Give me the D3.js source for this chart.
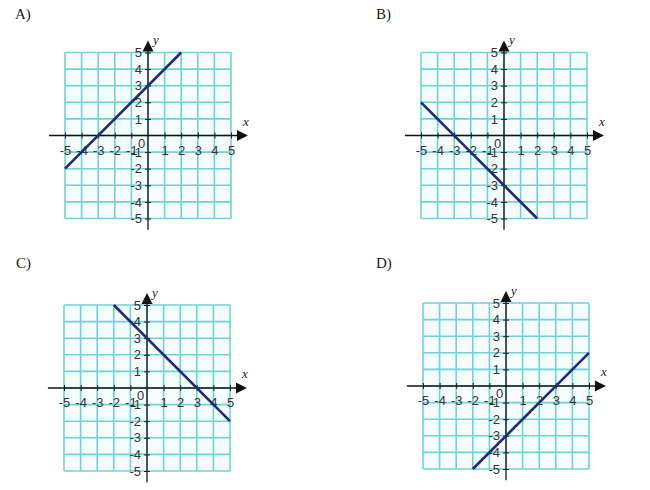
<!DOCTYPE html>
<html>
<head>
<meta charset="utf-8">
<script src="https://cdn.jsdelivr.net/npm/d3@7"></script>
<style>
  body { margin: 0; background: #fff; }
  svg { display: block; }
</style>
</head>
<body>
<div id="chart"></div>
<script>
// --- Data ---
const panelLabels = ["A)", "B)", "C)", "D)"];
const tickValues = [-5, -4, -3, -2, -1, 0, 1, 2, 3, 4, 5];
// line endpoints [x, y] for each panel
const lineStart = [[-5, -2], [-5, 2], [-2, 5], [-2, -5]];
const lineEnd = [[2, 5], [2, -5], [5, -2], [5, 2]];

// --- Layout (pixel origin of each graph, label anchor) ---
const layout = [
  { ox: 148, oy: 135.5, lx: 15, ly: 19 },
  { ox: 504, oy: 135.5, lx: 376, ly: 19 },
  { ox: 147, oy: 388, lx: 16, ly: 268 },
  { ox: 506, oy: 386, lx: 376, ly: 268 }
];
const half = 83; // pixels from origin to +/-5

const gridColor = "#72d2d2";
const lineColor = "#1f2a78";
const sans = "'Liberation Sans', Arial, sans-serif";
const serif = "'Liberation Serif', 'Times New Roman', serif";
const plainNum = d => String(d); // keep the ascii hyphen like the source

const svg = d3.select("#chart").append("svg")
  .attr("width", 650)
  .attr("height", 490);

panelLabels.forEach((label, i) => {
  const { ox, oy, lx, ly } = layout[i];
  const x = d3.scaleLinear().domain([-5, 5]).range([ox - half, ox + half]);
  const y = d3.scaleLinear().domain([-5, 5]).range([oy + half, oy - half]);

  svg.append("text")
    .attr("x", lx)
    .attr("y", ly)
    .attr("font-family", serif)
    .attr("font-size", 15)
    .attr("fill", "#222")
    .text(label);

  const g = svg.append("g");

  // grid background + lines
  g.append("rect")
    .attr("x", x(-5)).attr("y", y(5))
    .attr("width", x(5) - x(-5)).attr("height", y(-5) - y(5))
    .attr("fill", "#f4fcfc");

  g.selectAll(".vgrid")
    .data(tickValues)
    .join("line")
    .attr("x1", d => x(d)).attr("x2", d => x(d))
    .attr("y1", y(-5)).attr("y2", y(5))
    .attr("stroke", gridColor)
    .attr("stroke-width", 1.6);

  g.selectAll(".hgrid")
    .data(tickValues)
    .join("line")
    .attr("y1", d => y(d)).attr("y2", d => y(d))
    .attr("x1", x(-5)).attr("x2", x(5))
    .attr("stroke", gridColor)
    .attr("stroke-width", 1.6);

  // axis lines
  g.append("line")
    .attr("x1", x(-5.97)).attr("x2", x(5.5))
    .attr("y1", y(0)).attr("y2", y(0))
    .attr("stroke", "#111").attr("stroke-width", 1.3);
  g.append("line")
    .attr("x1", x(0)).attr("x2", x(0))
    .attr("y1", y(-5.68)).attr("y2", y(5.2))
    .attr("stroke", "#111").attr("stroke-width", 1.3);

  // arrow heads
  const xt = x(6.02), yt = y(5.72);
  g.append("path")
    .attr("d", `M${xt},${y(0)} L${xt - 11},${y(0) - 5.5} L${xt - 11},${y(0) + 5.5} Z`)
    .attr("fill", "#111");
  g.append("path")
    .attr("d", `M${x(0)},${yt} L${x(0) - 5.5},${yt + 11} L${x(0) + 5.5},${yt + 11} Z`)
    .attr("fill", "#111");

  // x axis ticks + labels
  const xAxis = g.append("g")
    .attr("transform", `translate(0,${y(0)})`)
    .call(d3.axisBottom(x)
      .tickValues(tickValues.filter(d => d !== 0))
      .tickSize(3)
      .tickPadding(7)
      .tickFormat(plainNum));
  xAxis.select(".domain").remove();
  xAxis.selectAll(".tick line").attr("y1", -3).attr("stroke", "#222");
  xAxis.selectAll("text")
    .attr("font-family", sans)
    .attr("font-size", 13)
    .attr("fill", "#333");

  // y axis ticks + labels
  const yAxis = g.append("g")
    .attr("transform", `translate(${x(0)},0)`)
    .call(d3.axisLeft(y)
      .tickValues(tickValues.filter(d => d !== 0))
      .tickSize(3)
      .tickPadding(3)
      .tickFormat(plainNum));
  yAxis.select(".domain").remove();
  yAxis.selectAll(".tick line").attr("x1", 3).attr("stroke", "#222");
  yAxis.selectAll("text")
    .attr("font-family", sans)
    .attr("font-size", 13)
    .attr("fill", "#333");

  // origin label
  g.append("text")
    .attr("x", x(0) - 6.5)
    .attr("y", y(0) + 12)
    .attr("text-anchor", "middle")
    .attr("font-family", sans)
    .attr("font-size", 13)
    .attr("fill", "#333")
    .text("0");

  // axis names
  g.append("text")
    .attr("x", x(0) + 5)
    .attr("y", y(5.5))
    .attr("font-family", serif)
    .attr("font-style", "italic")
    .attr("font-size", 13)
    .attr("fill", "#222")
    .text("y");
  g.append("text")
    .attr("x", x(5.72))
    .attr("y", y(0.6))
    .attr("font-family", serif)
    .attr("font-style", "italic")
    .attr("font-size", 13)
    .attr("fill", "#222")
    .text("x");

  // the line
  g.append("line")
    .attr("x1", x(lineStart[i][0])).attr("y1", y(lineStart[i][1]))
    .attr("x2", x(lineEnd[i][0])).attr("y2", y(lineEnd[i][1]))
    .attr("stroke", lineColor)
    .attr("stroke-width", 2.6);
});
</script>
</body>
</html>
